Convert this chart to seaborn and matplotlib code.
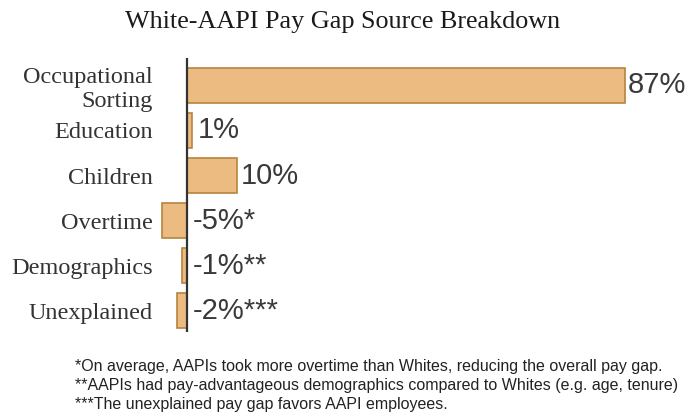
import pandas as pd
import matplotlib.pyplot as plt
import seaborn as sns

# chart data
categories = ['Occupational\nSorting', 'Education', 'Children', 'Overtime', 'Demographics', 'Unexplained']
shares = [87, 1, 10, -5, -1, -2]
marks = ['', '', '', '*', '**', '***']
footnotes = [
    '*On average, AAPIs took more overtime than Whites, reducing the overall pay gap.',
    '**AAPIs had pay-advantageous demographics compared to Whites (e.g. age, tenure)',
    '***The unexplained pay gap favors AAPI employees.',
]

df = pd.DataFrame({'source': categories, 'share': shares, 'mark': marks})

sns.set_style('white')
serif = ['Liberation Serif', 'DejaVu Serif']
sans = ['Liberation Sans', 'DejaVu Sans']

fig = plt.figure(figsize=(6.86, 4.17), dpi=100)
ax = fig.add_axes([0.229, 0.205, 0.771, 0.655])

sns.barplot(data=df, x='share', y='source', orient='h', color='#ECBB82',
            edgecolor='#B8843E', linewidth=1.2, width=0.78, saturation=1, ax=ax)

ax.axvline(0, color='#333333', lw=1.6)
sns.despine(ax=ax, left=True, bottom=True)
ax.set_xlim(-5.96, 99.2)
ax.set_ylim(5.46, -0.6)
ax.set_xticks([])
ax.set_xlabel('')
ax.set_ylabel('')
ax.tick_params(axis='y', length=0, pad=3)
for lbl in ax.get_yticklabels():
    lbl.set_fontfamily(serif)
    lbl.set_fontsize(17.5)
    lbl.set_color('#333333')

for i, row in df.iterrows():
    gap = 0.7 if row['share'] > 5 else 1.1
    ax.text(max(row['share'], 0) + gap, i, f"{row['share']}%{row['mark']}",
            va='center', ha='left', fontsize=21, color='#3a3a3a', family=sans)

fig.text(0.5, 0.947, 'White-AAPI Pay Gap Source Breakdown', ha='center', va='center',
         fontsize=18.8, family=serif, color='#1a1a1a')

for k, note in enumerate(footnotes):
    fig.text(0.109, 0.122 - k * 0.0455, note, ha='left', va='center',
             fontsize=11.5, family=sans, color='#222222')

fig.savefig('out.png', dpi=100)
